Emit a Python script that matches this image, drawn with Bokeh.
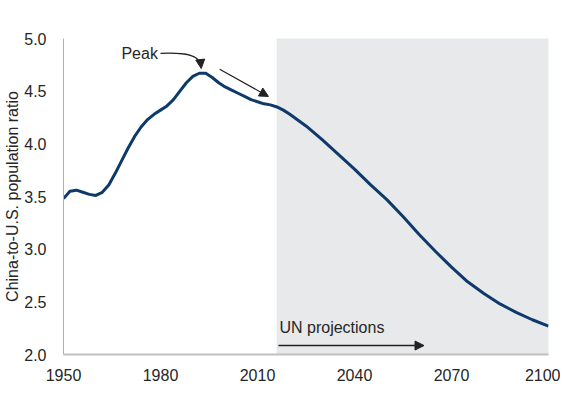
from bokeh.plotting import figure
from bokeh.models import Range1d, FixedTicker, NumeralTickFormatter, BoxAnnotation, Arrow, NormalHead, Label
from bokeh.embed import file_html
from bokeh.resources import INLINE

years = [1950, 1952, 1954, 1956, 1958, 1960, 1962, 1964, 1966, 1968, 1970, 1972, 1974,
         1976, 1978, 1980, 1982, 1984, 1986, 1988, 1990, 1992, 1994, 1996, 1998, 2000,
         2002, 2004, 2006, 2008, 2010, 2012, 2014, 2016, 2018, 2020, 2025, 2030, 2035,
         2040, 2045, 2050, 2055, 2060, 2065, 2070, 2075, 2080, 2085, 2090, 2095, 2100]
ratio = [3.48, 3.55, 3.56, 3.54, 3.52, 3.51, 3.54, 3.61, 3.72, 3.84, 3.96, 4.07, 4.16,
         4.23, 4.28, 4.32, 4.36, 4.42, 4.50, 4.58, 4.64, 4.67, 4.67, 4.63, 4.58, 4.54,
         4.51, 4.48, 4.45, 4.42, 4.40, 4.38, 4.37, 4.35, 4.32, 4.28, 4.17, 4.04, 3.90,
         3.76, 3.61, 3.47, 3.31, 3.14, 2.98, 2.83, 2.69, 2.58, 2.48, 2.40, 2.33, 2.27]
x_ticks = [1950, 1980, 2010, 2040, 2070, 2100]
y_ticks = [2.0, 2.5, 3.0, 3.5, 4.0, 4.5, 5.0]
proj_start = 2016

FONT = "Liberation Sans"
TXT = "#262626"
FS = "16px"

p = figure(width=560, height=383, output_backend="svg", toolbar_location=None,
           x_range=Range1d(1950, 2100), y_range=Range1d(2.0, 5.0),
           min_border_left=63, min_border_right=12, min_border_top=38, min_border_bottom=29)
p.outline_line_color = None
p.grid.visible = False
p.background_fill_color = "white"

p.add_layout(BoxAnnotation(left=proj_start, right=2100, bottom=2.0, top=5.0,
                           fill_color="#E8E9EB", fill_alpha=1.0,
                           line_color="#D8D9DB", line_width=1, level="underlay"))

p.line(years, ratio, line_color="#0D3A6B", line_width=3)

for ax in (p.xaxis[0], p.yaxis[0]):
    ax.major_tick_line_color = None
    ax.minor_tick_line_color = None
    ax.major_label_text_font = FONT
    ax.major_label_text_font_size = FS
    ax.major_label_text_color = TXT
p.xaxis.ticker = FixedTicker(ticks=x_ticks)
p.yaxis.ticker = FixedTicker(ticks=y_ticks)
p.yaxis.formatter = NumeralTickFormatter(format="0.0")
p.xaxis.axis_line_color = "#C0C0C0"
p.xaxis.axis_line_width = 2
p.yaxis.axis_line_color = "#B0B0B0"
p.yaxis.axis_line_width = 1
p.xaxis.major_label_standoff = 8
p.yaxis.major_label_standoff = 11
p.yaxis.axis_label = "China-to-U.S. population ratio"
p.yaxis.axis_label_text_font = FONT
p.yaxis.axis_label_text_font_size = FS
p.yaxis.axis_label_text_font_style = "normal"
p.yaxis.axis_label_text_color = TXT
p.yaxis.axis_label_standoff = 0

# Peak annotation
p.add_layout(Label(x=1979.2, y=4.858, text="Peak", text_align="right", text_baseline="middle",
                   text_font=FONT, text_font_size=FS, text_color=TXT))
p.bezier(x0=[1980.0], y0=[4.858], x1=[1992.4], y1=[4.75],
         cx0=[1988.0], cy0=[4.87], cx1=[1992.0], cy1=[4.84],
         line_color="#222222", line_width=1.2)
p.add_layout(Arrow(x_start=1992.4, y_start=4.77, x_end=1992.6, y_end=4.715,
                   line_color="#222222", line_width=1.2,
                   end=NormalHead(size=9, fill_color="#222222", line_color="#222222")))
p.add_layout(Arrow(x_start=1998.3, y_start=4.708, x_end=2013.4, y_end=4.45,
                   line_color="#222222", line_width=1.2,
                   end=NormalHead(size=9, fill_color="#222222", line_color="#222222")))

# UN projections annotation
p.add_layout(Label(x=proj_start + 0.8, y=2.255, text="UN projections", text_align="left",
                   text_baseline="middle", text_font=FONT, text_font_size=FS, text_color=TXT))
p.add_layout(Arrow(x_start=proj_start + 0.5, y_start=2.085, x_end=2061.5, y_end=2.085,
                   line_color="#222222", line_width=1.5,
                   end=NormalHead(size=9, fill_color="#222222", line_color="#222222")))

open("out.html", "w").write(file_html(p, INLINE))
